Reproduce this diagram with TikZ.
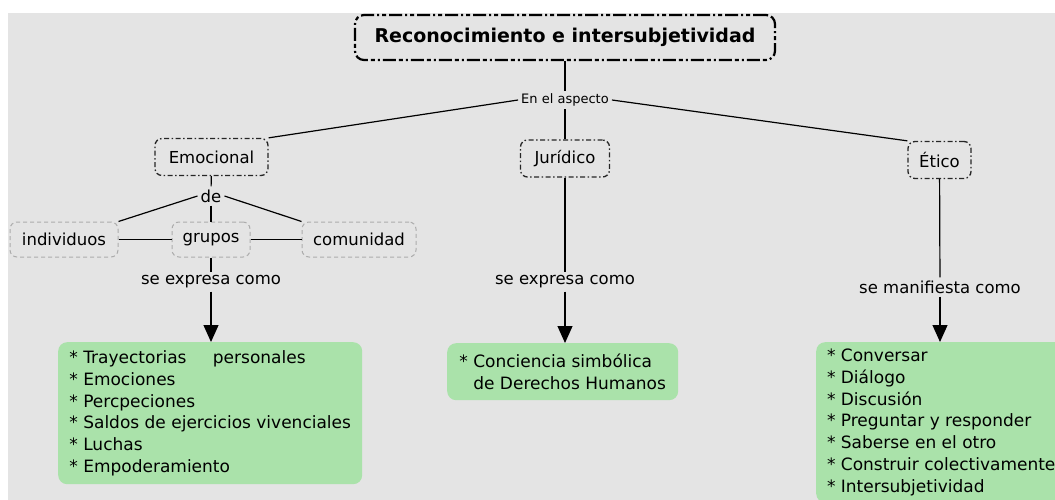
\documentclass[tikz,border=0pt]{standalone}
\usepackage{fontspec}
\setmainfont{DejaVu Sans}
\usepackage{tikz}
\usetikzlibrary{positioning}
\usetikzlibrary{arrows.meta, shapes}
\definecolor{fondo}{RGB}{228,228,228}
\definecolor{verde}{RGB}{170,226,170}
\definecolor{gris}{RGB}{172,172,172}
\tikzstyle{titulo} = [rounded corners=9pt, draw=black, line width=2.2pt, dash pattern=on 13pt off 3pt on 4pt off 3pt on 2pt off 3pt, font=\fontsize{19}{22}\selectfont\bfseries, minimum width=420pt, minimum height=45pt]
\tikzstyle{aspecto} = [rounded corners=7pt, draw=black!85, line width=1.3pt, dash pattern=on 5pt off 2.5pt on 1.5pt off 2.5pt, font=\fontsize{16.5}{19}\selectfont, minimum height=37pt]
\tikzstyle{quien} = [rounded corners=7pt, draw=gris, line width=1pt, dash pattern=on 4pt off 3pt, font=\fontsize{16.5}{19}\selectfont, minimum height=35pt]
\tikzstyle{enlace} = [font=\fontsize{16.5}{19}\selectfont, inner sep=3pt]
\tikzstyle{lista} = [fill=verde, rounded corners=9pt, anchor=north west, align=left, font=\fontsize{17}{21.7}\selectfont, inner xsep=14pt]
\tikzstyle{linea} = [line width=1.2pt]
\tikzstyle{flecha} = [line width=1.2pt, -{Triangle[width=15pt,length=17pt]}]

\begin{document}
\begin{tikzpicture}[x=1pt, y=-1pt]
      \fill[white] (0,0) rectangle (1055,500);
      \useasboundingbox (0,0) rectangle (1055,500);
      \fill[fondo] (8,13) rectangle (1055,500);
      %%%%%%%%%%%%%%%%%%%%%%%%%%%%%%%%%%%%%%%
      \draw (565,37.5) node (rec) [titulo] {Reconocimiento e intersubjetividad\hspace{12pt}};
      \draw (565,100) node (asp) [enlace, font=\fontsize{13}{15}\selectfont] {En el aspecto};
      \draw (211.5,157) node (emo) [aspecto, minimum width=113pt] {Emocional};
      \draw (565,158.5) node (jur) [aspecto, minimum width=89pt] {Jurídico};
      \draw (939.5,160) node (eti) [aspecto, minimum width=63pt] {Ético};
      %\draw (211,196) node (de) [enlace] {};
      \draw (211,196) node (de) [enlace] {de};
      \draw (64,239.5) node (ind) [quien, minimum width=108pt] {individuos};
      \draw (211,239.5) node (gru) [quien, minimum width=78pt] {grupos};
      \draw (359,239.5) node (com) [quien, minimum width=114pt] {comunidad};
      \draw (211,282) node (exp1) [enlace] {se expresa como};
      \draw (565,282) node (exp2) [enlace] {se expresa como};
      \draw (940,287) node (man) [enlace] {se manifiesta como};
      %%%%%%%%%%%%%%%%%%%%%%%%%%%%%%%%%%%%%%%
      \draw (58,342) node (emoc) [lista, minimum width=304pt, minimum height=142pt, inner xsep=11pt] {* Trayectorias\hspace{21pt} personales\\* Emociones\\* Percpeciones\\* Saldos de ejercicios vivenciales\\* Luchas\\* Empoderamiento};
      \draw (447,343) node (juri) [lista, minimum width=231pt, minimum height=57pt, inner xsep=10pt] {* Conciencia simbólica\\\hphantom{* }de Derechos Humanos};
      \draw (816,342) node (etic) [lista, minimum width=250pt, inner xsep=10pt, inner ysep=7pt] {* Conversar\\* Diálogo\\* Discusión\\* Preguntar y responder\\* Saberse en el otro\\* Construir colectivamente\\* Intersubjetividad};
      %%%%%%%%%%%%%%%%%%%%%%%%%%%%%%%%%%%%%%%
      \draw[linea] (rec)--(asp);
      \draw[linea] (asp.west)--(emo.north east);
      \draw[linea] (asp)--(jur);
      \draw[linea] (asp.east)--(eti.north west);
      \draw[linea] (emo)--(de);
      \draw[linea] (de.west)--(ind.north east);
      \draw[linea] (de)--(gru);
      \draw[linea] (de.east)--(com.north west);
      \draw[linea] (ind)--(gru);
      \draw[linea] (gru)--(com);
      \draw[linea] (gru)--(exp1);
      \draw[linea] (jur)--(exp2);
      \draw[linea] (eti)--(man);
      \draw[flecha] (exp1)--(emoc.north -| exp1);
      \draw[flecha] (exp2)--(juri.north -| exp2);
      \draw[flecha] (man)--(etic.north -| man);
\end{tikzpicture}
\end{document}
